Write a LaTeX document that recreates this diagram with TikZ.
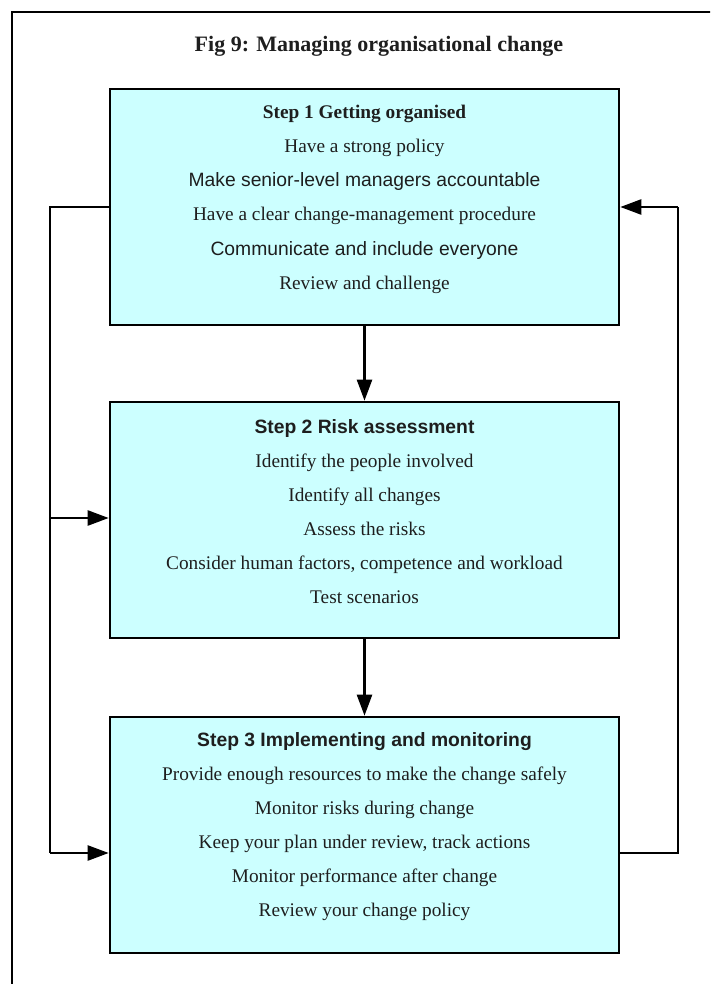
\documentclass[tikz,border=0pt]{standalone}
\usepackage{fontspec}
\setmainfont{Liberation Serif}
\setsansfont{Liberation Sans}
\usetikzlibrary{arrows.meta}
\definecolor{boxfill}{HTML}{CCFFFF}
\definecolor{inktext}{HTML}{1E1E1E}
\begin{document}
\begin{tikzpicture}[x=1pt,y=-1pt,
  stepbox/.style={draw,line width=2.6pt,fill=boxfill,minimum width=509pt,minimum height=236pt,inner sep=0pt},
  ln/.style={anchor=base,inner sep=0pt,text=inktext,font=\fontsize{19.3}{22}\selectfont},
  lns/.style={ln,font=\sffamily\fontsize{19.3}{22}\selectfont},
  hdr/.style={ln,font=\bfseries\fontsize{19.3}{22}\selectfont},
  hdrs/.style={ln,font=\sffamily\bfseries\fontsize{19.3}{22}\selectfont},
  conn/.style={line width=2.4pt,-{Triangle[length=21pt,width=15pt]}},
  wire/.style={line width=2.4pt}]
\useasboundingbox (0,0) rectangle (710,984);
\clip (0,0) rectangle (710,984);
% outer frame
\draw[line width=2.6pt] (12,1000) -- (12,12) -- (730,12);
% title
\node[anchor=base,inner sep=0pt,text=inktext,font=\bfseries\fontsize{22}{25}\selectfont] (title) at (379,52) {Fig 9: Managing organisational change};
% boxes
\node[stepbox] (s1) at (364.5,207) {};
\node[stepbox] (s2) at (364.5,520) {};
\node[stepbox] (s3) at (364.5,835) {};
% box 1 text
\node[hdr] (a0) at (364.5,119) {Step 1 Getting organised};
\node[ln]  (a1) at (364.5,153) {Have a strong policy};
\node[lns] (a2) at (364.5,187) {Make senior-level managers accountable};
\node[ln]  (a3) at (364.5,221) {Have a clear change-management procedure};
\node[lns] (a4) at (364.5,255) {Communicate and include everyone};
\node[ln]  (a5) at (364.5,289) {Review and challenge};
% box 2 text
\node[hdrs] (b0) at (364.5,433) {Step 2 Risk assessment};
\node[ln]  (b1) at (364.5,467) {Identify the people involved};
\node[ln]  (b2) at (364.5,501) {Identify all changes};
\node[ln]  (b3) at (364.5,535) {Assess the risks};
\node[ln]  (b4) at (364.5,569) {Consider human factors, competence and workload};
\node[ln]  (b5) at (364.5,603) {Test scenarios};
% box 3 text
\node[hdrs] (c0) at (364.5,746) {Step 3 Implementing and monitoring};
\node[ln]  (c1) at (364.5,780) {Provide enough resources to make the change safely};
\node[ln]  (c2) at (364.5,814) {Monitor risks during change};
\node[ln]  (c3) at (364.5,848) {Keep your plan under review, track actions};
\node[ln]  (c4) at (364.5,882) {Monitor performance after change};
\node[ln]  (c5) at (364.5,916) {Review your change policy};
% connectors
\draw[conn] (s1.south) -- (s2.north);
\draw[conn] (s2.south) -- (s3.north);
\coordinate (lt) at (50,207);
\coordinate (lm) at (50,518);
\coordinate (lb) at (50,853);
\coordinate (rb) at (678,853);
\coordinate (rt) at (678,207);
\draw[wire] (s1.west) -- (lt) -- (lb);
\draw[conn] (lb) -- (s3.west |- lb);
\draw[conn] (lm) -- (s2.west |- lm);
\draw[wire] (s3.east |- rb) -- (rb) -- (rt);
\draw[conn] (rt) -- (s1.east);
\end{tikzpicture}
\end{document}
